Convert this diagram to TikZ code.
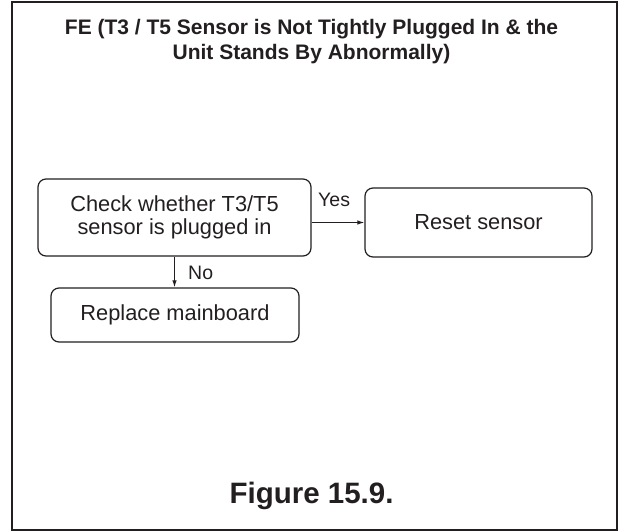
\documentclass[tikz,border=0pt]{standalone}
\usepackage{fontspec}
\setmainfont{Liberation Sans}
\usetikzlibrary{arrows.meta}
\definecolor{ink}{HTML}{231F20}
\begin{document}
\begin{tikzpicture}[x=1pt,y=-1pt,
  box/.style={draw=ink,line width=1.2pt,rounded corners=8pt,inner sep=0pt,align=center,
    text=ink,font=\fontsize{21.8}{23.5}\selectfont},
  lbl/.style={text=ink,inner sep=0pt,font=\fontsize{19.5}{22}\selectfont},
  conn/.style={draw=ink,line width=1.1pt,-{Latex[length=7pt,width=4.5pt]}}]
\useasboundingbox (0,0) rectangle (619,531);
\draw[ink,line width=1.8pt] (12,2) rectangle (617,530);
\node[anchor=north,align=center,inner sep=0pt,text=ink,font=\bfseries\fontsize{21}{25.4}\selectfont] (title) at (311.5,19)
  {FE (T3 / T5 Sensor is Not Tightly Plugged In \& the\\Unit Stands By Abnormally)};
\node[box,minimum width=273pt,minimum height=77pt] (b1) at (174.5,217.5)
  {Check whether T3/T5\\sensor is plugged in};
\node[box,minimum width=227pt,minimum height=69pt] (b2) at (478.5,222.5) {Reset sensor};
\node[box,minimum width=248pt,minimum height=54pt] (b3) at (175,315) {Replace mainboard};
\draw[conn] (b1.east |- b2.west) -- (b2.west);
\draw[conn] (b1.south) -- (b1.south |- b3.north);
\node[lbl,anchor=base west] (yes) at (318,206) {Yes};
\node[lbl,anchor=base west] (no) at (188,279) {No};
\node[anchor=base,inner sep=0pt,text=ink,font=\bfseries\fontsize{29.5}{31}\selectfont] (fig) at (311.5,503) {Figure 15.9.};
\end{tikzpicture}
\end{document}
